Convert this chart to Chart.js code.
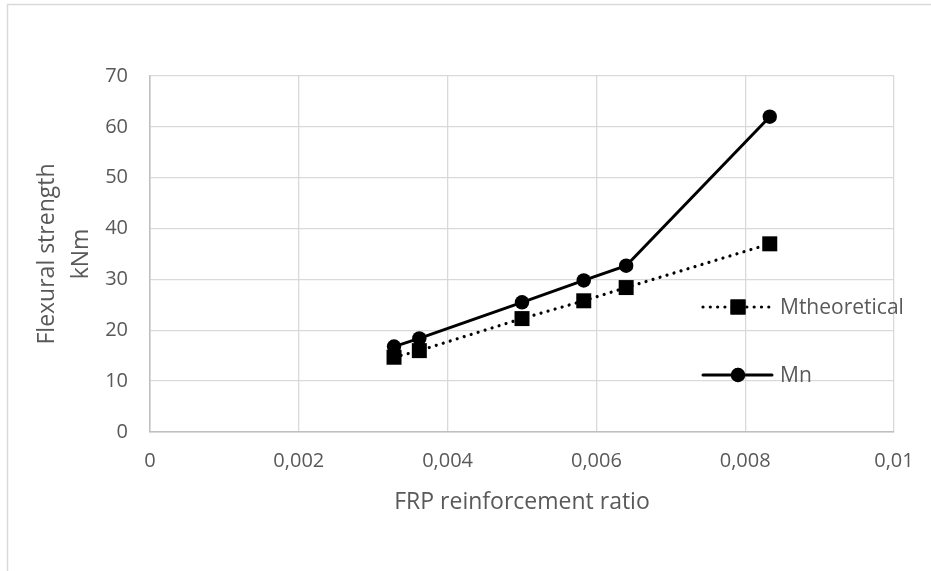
<!DOCTYPE html>
<html>
<head>
<meta charset="utf-8">
<script src="https://cdn.jsdelivr.net/npm/chart.js@4/dist/chart.umd.min.js"></script>
<style>
  html, body { margin: 0; padding: 0; background: #ffffff; }
  #wrap { position: relative; width: 931px; height: 571px; }
</style>
</head>
<body>
<div id="wrap"><canvas id="c" width="931" height="571"></canvas></div>
<script>
// FRP reinforcement ratio of each beam
const ratios = [0.00328, 0.00362, 0.0050, 0.00583, 0.0064, 0.00833];
// Flexural strength (kNm)
const mTheoretical = [14.7, 16.0, 22.3, 25.8, 28.4, 37.0];
const mN = [16.8, 18.4, 25.5, 29.8, 32.7, 62.0];

const seriesNames = ['Mtheoretical', 'Mn'];
const xTickLabels = ['0', '0,002', '0,004', '0,006', '0,008', '0,01'];
const yTickLabels = ['0', '10', '20', '30', '40', '50', '60', '70'];
const xTitle = 'FRP reinforcement ratio';
const yTitle = ['Flexural strength', 'kNm'];

const TEXT = '#595959';
const GRID = '#d9d9d9';
const AXIS = '#bfbfbf';
const FONT = "'Open Sans', sans-serif";

const toPoints = (ys) => ratios.map((x, i) => ({ x, y: ys[i] }));

// Outer frame of the chart
const framePlugin = {
  id: 'frame',
  beforeDraw(chart) {
    const ctx = chart.ctx;
    ctx.save();
    ctx.strokeStyle = GRID;
    ctx.lineWidth = 1.5;
    ctx.beginPath();
    ctx.moveTo(7.5, chart.height);
    ctx.lineTo(7.5, 4.5);
    ctx.lineTo(chart.width, 4.5);
    ctx.stroke();
    ctx.restore();
  }
};

// Legend drawn inside the plot, one entry per row
const legendPlugin = {
  id: 'sideLegend',
  afterDatasetsDraw(chart) {
    const ctx = chart.ctx;
    const rows = [307, 375];
    const x0 = 703, x1 = 772, xm = 738, xt = 780;
    ctx.save();
    chart.data.datasets.forEach((ds, i) => {
      const y = rows[i];
      ctx.strokeStyle = ds.borderColor;
      ctx.lineWidth = ds.borderWidth;
      ctx.lineCap = ds.borderCapStyle || 'butt';
      ctx.setLineDash(ds.borderDash || []);
      ctx.beginPath();
      ctx.moveTo(x0, y);
      ctx.lineTo(x1, y);
      ctx.stroke();
      ctx.setLineDash([]);
      Chart.helpers.drawPoint(ctx, {
        pointStyle: ds.pointStyle,
        radius: ds.pointRadius,
        borderWidth: 0,
        rotation: 0
      }, xm, y);
      ctx.fillStyle = ds.pointBackgroundColor;
      ctx.fill();
      ctx.fillStyle = TEXT;
      ctx.font = '21px ' + FONT;
      ctx.textBaseline = 'middle';
      ctx.textAlign = 'left';
      ctx.fillText(ds.label, xt, y + 1);
    });
    ctx.restore();
  }
};

new Chart(document.getElementById('c'), {
  type: 'scatter',
  data: {
    datasets: [
      {
        label: seriesNames[0],
        data: toPoints(mTheoretical),
        showLine: true,
        borderColor: '#000000',
        borderWidth: 3.2,
        borderDash: [0.01, 7.3],
        borderCapStyle: 'round',
        pointStyle: 'rect',
        pointRadius: 10.6,
        pointHoverRadius: 10.6,
        pointBorderWidth: 0,
        pointBackgroundColor: '#000000',
        order: 2
      },
      {
        label: seriesNames[1],
        data: toPoints(mN),
        showLine: true,
        borderColor: '#000000',
        borderWidth: 3,
        borderCapStyle: 'round',
        pointStyle: 'circle',
        pointRadius: 7.2,
        pointHoverRadius: 7.2,
        pointBorderWidth: 0,
        pointBackgroundColor: '#000000',
        order: 1
      }
    ]
  },
  options: {
    responsive: false,
    animation: false,
    events: [],
    layout: { padding: { left: 8, top: 76, right: 37, bottom: 0 } },
    plugins: {
      legend: { display: false },
      tooltip: { enabled: false }
    },
    scales: {
      x: {
        type: 'linear',
        min: 0,
        max: 0.01,
        afterFit(scale) { scale.height = 139; },
        afterBuildTicks(scale) {
          scale.ticks = xTickLabels.map((_, i) => ({ value: i * 0.002 }));
        },
        ticks: {
          color: TEXT,
          font: { family: FONT, size: 20 },
          padding: 17,
          maxRotation: 0,
          autoSkip: false,
          callback: (v, i) => xTickLabels[i]
        },
        grid: { color: GRID, lineWidth: 1.3, drawTicks: false },
        border: { color: AXIS, width: 1.5 },
        title: {
          display: true,
          text: xTitle,
          color: TEXT,
          font: { family: FONT, size: 23 },
          padding: { top: 0, bottom: 55 }
        }
      },
      y: {
        type: 'linear',
        min: 0,
        max: 70,
        afterFit(scale) { scale.width = 142; },
        afterBuildTicks(scale) {
          scale.ticks = yTickLabels.map((_, i) => ({ value: i * 10 }));
        },
        ticks: {
          color: TEXT,
          font: { family: FONT, size: 20 },
          padding: 22,
          autoSkip: false,
          callback: (v, i) => yTickLabels[i]
        },
        grid: { color: GRID, lineWidth: 1.3, drawTicks: false },
        border: { color: AXIS, width: 1.5 },
        title: {
          display: true,
          text: yTitle,
          color: TEXT,
          font: { family: FONT, size: 23, lineHeight: 1.52 },
          padding: { top: 21.5, bottom: 0 }
        }
      }
    }
  },
  plugins: [framePlugin, legendPlugin]
});
</script>
</body>
</html>
